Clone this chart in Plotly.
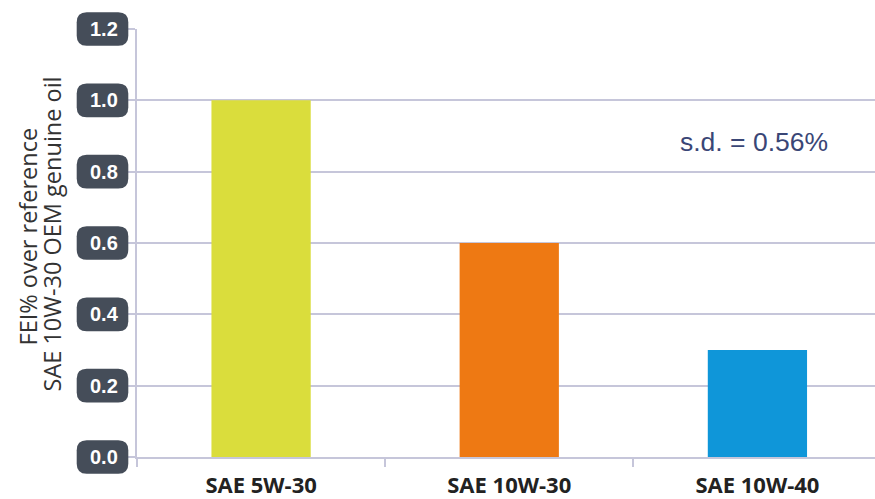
import plotly.graph_objects as go

# ---- data ----
categories = ["SAE 5W-30", "SAE 10W-30", "SAE 10W-40"]
fei_values = [1.0, 0.6, 0.3]
bar_colors = ["#dadd3c", "#ee7913", "#0f96d9"]
y_ticks = [0.0, 0.2, 0.4, 0.6, 0.8, 1.0, 1.2]
y_tick_text = ["0.0", "0.2", "0.4", "0.6", "0.8", "1.0", "1.2"]
y_title_lines = ["FEI% over reference", "SAE 10W-30 OEM genuine oil"]
sd_note = "s.d. = 0.56%"

# ---- layout geometry (pixels) ----
FIG_W, FIG_H = 875, 499
M_L, M_R, M_T, M_B = 137, 0, 29, 42
PW = FIG_W - M_L - M_R
PH = FIG_H - M_T - M_B
Y_MAX = 1.2

def px_to_paper_x(px):
    return (px - M_L) / PW

def px_to_paper_y(py):
    return (FIG_H - M_B - py) / PH

grid_col = "#c6c6da"
box_col = "#454d59"

fig = go.Figure()
fig.add_trace(go.Bar(
    x=categories, y=fei_values,
    marker=dict(color=bar_colors, line=dict(width=0)),
    width=0.4,
    hoverinfo="skip",
))

# rounded boxes behind y tick labels
hw, hh, r = 25.8, 16.8, 10
path = (f"M {-hw + r},{-hh} L {hw - r},{-hh} Q {hw},{-hh} {hw},{-hh + r} "
        f"L {hw},{hh - r} Q {hw},{hh} {hw - r},{hh} L {-hw + r},{hh} "
        f"Q {-hw},{hh} {-hw},{hh - r} L {-hw},{-hh + r} Q {-hw},{-hh} {-hw + r},{-hh} Z")
box_cx = px_to_paper_x(102.5)
shapes = []
annotations = []
for t, txt in zip(y_ticks, y_tick_text):
    shapes.append(dict(
        type="path", xref="paper", yref="paper",
        xsizemode="pixel", ysizemode="pixel",
        xanchor=box_cx, yanchor=t / Y_MAX,
        path=path, fillcolor=box_col, line=dict(width=0), layer="above",
    ))
    annotations.append(dict(
        x=px_to_paper_x(104), y=t, xref="paper", yref="y",
        text=txt, showarrow=False, xanchor="center", yanchor="middle",
        font=dict(family="Liberation Sans, Arial, sans-serif", size=20,
                  color="white", weight="bold"),
    ))

# y axis title as two lines
for line, cx, cy in zip(y_title_lines, [27.5, 51.5], [237, 234]):
    annotations.append(dict(
        x=px_to_paper_x(cx), y=px_to_paper_y(cy), xref="paper", yref="paper",
        text=line, showarrow=False, textangle=-90,
        xanchor="center", yanchor="middle",
        font=dict(family="Open Sans, sans-serif", size=23.5, color="#333333"),
    ))

# s.d. note
annotations.append(dict(
    x=px_to_paper_x(754), y=px_to_paper_y(142), xref="paper", yref="paper",
    text=sd_note, showarrow=False, xanchor="center", yanchor="middle",
    font=dict(family="Liberation Sans, Arial, sans-serif", size=26.5, color="#3a4676"),
))

x_right = (FIG_W - M_L - 0.5) / 248.0 - 0.5

fig.update_layout(
    width=FIG_W, height=FIG_H,
    margin=dict(l=M_L, r=M_R, t=M_T, b=M_B, pad=0, autoexpand=False),
    paper_bgcolor="white", plot_bgcolor="white",
    showlegend=False,
    shapes=shapes, annotations=annotations,
    xaxis=dict(
        range=[-0.5, x_right], automargin=False,
        showgrid=False, showline=True, linecolor=grid_col, linewidth=2,
        ticks="outside", tickson="boundaries", ticklen=8, tickwidth=2,
        tickcolor=grid_col, ticklabelstandoff=8,
        tickfont=dict(family="Open Sans, sans-serif", size=22, color="#222222",
                      weight="bold"),
        zeroline=False,
    ),
    yaxis=dict(
        range=[0, Y_MAX], tickvals=y_ticks, ticktext=y_tick_text,
        showticklabels=False, automargin=False,
        showgrid=True, gridcolor=grid_col, gridwidth=2,
        showline=True, linecolor=grid_col, linewidth=2,
        ticks="outside", ticklen=9, tickwidth=2, tickcolor=grid_col,
        zeroline=False,
    ),
)

fig.write_html("out.html")
